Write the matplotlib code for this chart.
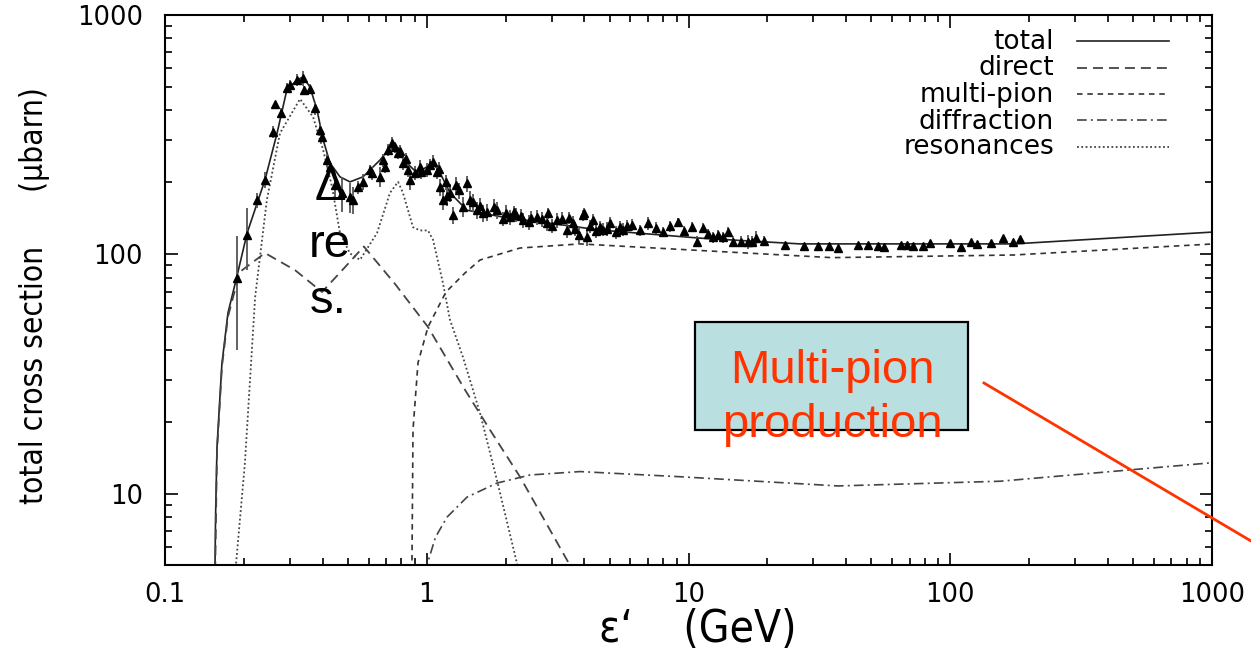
import matplotlib
matplotlib.use('Agg')
import matplotlib.pyplot as plt
from matplotlib import font_manager
from matplotlib.font_manager import FontProperties
from matplotlib.ticker import LogLocator, NullFormatter
from matplotlib.patches import Rectangle
from matplotlib.lines import Line2D

plt.rcParams['lines.scale_dashes'] = False
plt.rcParams['font.family'] = ['DejaVu Sans']


def find_narrow_font():
    ttf = font_manager.fontManager.ttflist
    for f in ttf:
        if f.name == 'Liberation Sans Narrow' and f.style == 'normal' and f.weight in (400, 'normal', 'regular'):
            return f.fname
    for f in ttf:
        low = f.fname.lower()
        if ('condensed' in low or 'narrow' in low) and 'bold' not in low and 'oblique' not in low \
                and 'italic' not in low and 'mono' not in low and 'serif' not in low:
            return f.fname
    return None


NARROW_FILE = find_narrow_font()

# ---------------- data (energy in GeV, cross section in microbarn) ----------------
total_x = [0.1545, 0.156, 0.158, 0.165, 0.174, 0.188, 0.206, 0.241, 0.268, 0.292, 0.319, 0.337,
           0.358, 0.381, 0.402, 0.427, 0.466, 0.509, 0.571, 0.663, 0.737, 0.777, 0.840, 0.918,
           1.057, 1.124, 1.227, 1.425, 1.905, 4.59, 11.07, 26.7, 175.0, 1000.0]
total_y = [3.0, 8.0, 15.7, 35.0, 57.0, 80.5, 123, 205, 321, 486, 535, 551,
           500, 401, 301, 241, 211, 201, 211, 248, 286, 278, 241, 219,
           241, 219, 181, 153, 144, 126.5, 117, 110.7, 110.7, 124]

direct_x = [0.1545, 0.158, 0.165, 0.174, 0.193, 0.241, 0.314, 0.398, 0.488, 0.575, 0.756,
            1.011, 1.40, 1.745, 2.27, 3.52, 4.2]
direct_y = [3.0, 15.0, 34.0, 55.0, 84.5, 101.4, 86.0, 69.7, 88.7, 108.0, 75.4,
            49.8, 27.2, 18.5, 11.8, 5.05, 3.5]

multipion_x = [0.874, 0.878, 0.886, 0.926, 1.011, 1.184, 1.40, 1.597, 2.27, 3.85, 9.28,
               35.3, 175.0, 1000.0]
multipion_y = [1.0, 5.05, 18.5, 35.3, 49.8, 69.7, 83.7, 94.8, 106.4, 110.7, 105.0,
               97.0, 99.5, 110.6]

diffraction_x = [0.997, 1.002, 1.08, 1.195, 1.425, 1.855, 2.48, 3.85, 9.28, 37.2, 155.0, 1000.0]
diffraction_y = [1.0, 5.05, 6.6, 8.0, 9.7, 11.1, 12.0, 12.4, 11.8, 10.8, 11.3, 13.5]

resonance_x = [0.179, 0.202, 0.221, 0.245, 0.275, 0.328, 0.368, 0.402, 0.435, 0.466, 0.509,
               0.556, 0.646, 0.724, 0.777, 0.811, 0.886, 0.942, 1.011, 1.057, 1.153, 1.227,
               1.375, 1.597, 1.855, 2.21, 2.4]
resonance_y = [3.0, 13.5, 66.5, 169, 321, 446, 375, 273, 191, 123, 101,
               95, 123, 181, 201, 181, 130, 126, 126, 115, 76, 53.3,
               37.3, 21.8, 11.4, 5.15, 3.0]

data_x = [0.188, 0.206, 0.225, 0.241, 0.259, 0.263, 0.277, 0.292, 0.300, 0.319, 0.337, 0.340,
          0.358, 0.374, 0.391, 0.398, 0.416, 0.427, 0.446, 0.475, 0.509, 0.522, 0.546, 0.571,
          0.607, 0.663, 0.681, 0.711, 0.737, 0.756, 0.777, 0.812, 0.848, 0.863, 0.902, 0.942,
          1.002, 1.057, 1.094, 1.124, 1.154, 1.19, 1.227, 1.26, 1.29, 1.375, 1.42, 1.463,
          1.556, 1.60, 1.640, 1.855, 2.00, 2.080, 2.20, 2.332, 2.50, 2.638, 2.880, 2.90,
          3.146, 3.435, 3.50, 3.621, 3.80, 3.954, 4.00, 4.096, 4.30, 4.590, 4.70, 5.013,
          5.475, 5.60, 6.10, 7.003, 7.991, 9.10, 10.31, 10.8, 11.36, 12.41, 13.55, 14.79,
          15.87, 16.88, 18.11, 23.37, 27.62, 31.24, 34.42, 37.26, 44.42, 48.51, 52.97, 55.84,
          64.84, 68.36, 72.06, 78.71, 83.69, 99.77, 109.9, 120.0, 126.6, 143.1, 159.1, 173.7,
          184.7,
          1.33, 1.50, 1.70, 1.80, 1.95, 2.15, 2.30, 2.45, 2.75, 3.00, 3.30, 3.70,
          4.20, 4.45, 4.90, 5.30, 5.80, 6.50, 7.50, 8.50, 9.60, 11.9, 13.0, 14.2,
          17.5, 19.5, 0.95, 1.03, 1.11, 1.18, 0.62, 0.69, 0.79, 0.83]
data_y = [80, 121, 169, 205, 325, 425, 390, 496, 510, 535, 546, 486,
          491, 409, 331, 310, 248, 232, 195, 181, 174, 169, 191, 201,
          225, 211, 248, 273, 292, 281, 265, 241, 225, 205, 219, 232,
          225, 243, 221, 191, 169, 175, 181, 146, 195, 158, 198, 169,
          153, 160, 149, 153, 149, 143, 146, 139, 142, 143, 135, 149,
          139, 127, 142, 135, 121, 146, 149, 118, 139, 130, 127, 135,
          130, 127, 133, 135, 124, 136, 130, 113, 129, 118, 118, 113,
          113, 113, 117, 110, 108.5, 108.5, 108.5, 106.4, 110, 110, 108.5, 107.5,
          110, 110, 108.5, 108.5, 112, 112, 107.5, 113, 111, 112, 117, 113,
          116,
          185, 165, 150, 158, 141, 150, 145, 136, 140, 132, 141, 128,
          131, 125, 128, 124, 131, 126, 129, 131, 125, 122, 121, 124,
          113, 114, 222, 236, 228, 200, 218, 232, 270, 250]
data_err = [40, 35, 12, 15, 20, 10, 20, 25, 25, 30, 40, 20,
            25, 25, 20, 15, 15, 12, 25, 30, 25, 22, 12, 15,
            12, 20, 15, 15, 18, 15, 15, 15, 15, 20, 15, 15,
            15, 18, 15, 15, 15, 15, 15, 12, 15, 15, 15, 15,
            12, 12, 12, 12, 12, 10, 10, 10, 10, 10, 10, 8,
            10, 10, 8, 10, 10, 8, 8, 10, 8, 8, 8, 8,
            8, 8, 8, 8, 6, 6, 6, 6, 6, 6, 6, 6,
            6, 8, 8, 2, 2, 2, 2, 2, 2, 2, 2, 2,
            2, 2, 2, 2, 2, 2, 2, 2, 2, 2, 2, 2,
            2,
            14, 14, 12, 12, 10, 10, 10, 10, 10, 9, 9, 9,
            8, 8, 8, 8, 8, 7, 7, 7, 7, 6, 6, 6,
            6, 6, 15, 15, 15, 15, 14, 14, 16, 15]

x_ticks = [0.1, 1, 10, 100, 1000]
x_ticklabels = ['0.1', '1', '10', '100', '1000']
y_ticks = [10, 100, 1000]
y_ticklabels = ['10', '100', '1000']

legend_labels = ['total', 'direct', 'multi-pion', 'diffraction', 'resonances']

# ---------------- figure ----------------
W, H = 1251, 652
fig = plt.figure(figsize=(W / 100, H / 100), dpi=100)
L, R, T, B = 165, 1212, 15, 565
ax = fig.add_axes([L / W, 1 - B / H, (R - L) / W, (B - T) / H])
ax.set_xscale('log')
ax.set_yscale('log')
ax.set_xlim(0.1, 1000)
ax.set_ylim(5.05, 1000)

styles = {
    'total': dict(color='#222222', lw=1.2, ls='-'),
    'direct': dict(color='#444444', lw=1.3, ls=(0, (7.2, 4.3))),
    'multi-pion': dict(color='#333333', lw=1.2, ls=(0, (4.0, 3.4))),
    'diffraction': dict(color='#444444', lw=1.2, ls=(0, (7.0, 3.0, 1.4, 3.0))),
    'resonances': dict(color='#444444', lw=1.3, ls=(0, (1.3, 1.8))),
}

ax.plot(total_x, total_y, **styles['total'])
ax.plot(direct_x, direct_y, **styles['direct'])
ax.plot(multipion_x, multipion_y, **styles['multi-pion'])
ax.plot(diffraction_x, diffraction_y, **styles['diffraction'])
ax.plot(resonance_x, resonance_y, **styles['resonances'])

ax.errorbar(data_x, data_y, yerr=data_err, fmt='^', color='black', ms=5.5,
            ecolor='#555555', elinewidth=1.3, capsize=0, zorder=4)

# ticks
ax.set_xticks(x_ticks)
ax.set_xticklabels(x_ticklabels)
ax.set_yticks(y_ticks)
ax.set_yticklabels(y_ticklabels)
ax.xaxis.set_minor_locator(LogLocator(base=10, subs=range(2, 10)))
ax.yaxis.set_minor_locator(LogLocator(base=10, subs=range(2, 10)))
ax.xaxis.set_minor_formatter(NullFormatter())
ax.yaxis.set_minor_formatter(NullFormatter())
ax.tick_params(which='both', direction='in', top=True, right=True, width=1.2, colors='black')
ax.tick_params(which='major', length=9)
ax.tick_params(which='minor', length=5)
ax.tick_params(axis='x', which='major', pad=12, labelsize=18.5)
ax.tick_params(axis='y', which='major', pad=16, labelsize=18.5)
for s in ax.spines.values():
    s.set_linewidth(1.5)


def label_props(size):
    if NARROW_FILE:
        fp = FontProperties(fname=NARROW_FILE)
    else:
        fp = FontProperties(family='Liberation Sans')
    fp.set_size(size)
    return fp


# axis labels
ax.set_ylabel('total cross section      (\u03bcbarn)', fontproperties=label_props(28))
ax.yaxis.label.set_va('center')
ax.yaxis.set_label_coords((34 - L) / (R - L), (B - 296) / (B - T))
ax.set_xlabel('\u03b5\u2018    (GeV)', fontproperties=label_props(28))
ax.xaxis.label.set_va('center')
ax.xaxis.set_label_coords((698 - L) / (R - L), (B - 630) / (B - T))

# fit the label sizes to the reference extents (417 px and 197 px)
fig.canvas.draw()
rend = fig.canvas.get_renderer()
yl_len = ax.yaxis.label.get_window_extent(rend).height
xl_len = ax.xaxis.label.get_window_extent(rend).width
ax.yaxis.label.set_fontsize(28 * 417.0 / yl_len)
ax.xaxis.label.set_fontsize(28 * 197.0 / xl_len)


# manual legend
def axc(px, py):
    return (px - L) / (R - L), (B - py) / (B - T)


leg_base = [49, 75, 102, 129, 154]
leg_line = [41, 68, 94, 120, 147]
for lab, yb, yl in zip(legend_labels, leg_base, leg_line):
    tx, ty = axc(1054, yb)
    ax.text(tx, ty, lab, transform=ax.transAxes, ha='right', va='baseline',
            fontsize=19, family='DejaVu Sans', color='black')
    x1, yy = axc(1077, yl)
    x2, _ = axc(1169, yl)
    ax.plot([x1, x2], [yy, yy], transform=ax.transAxes, **styles[lab])


# annotations (figure pixel positions)
def fc(px, py):
    return px / W, 1 - py / H


ANN = 'Liberation Sans'
for txt, (px, py) in [('\u0394', (330, 200)), ('re', (330, 257)), ('s.', (328, 313))]:
    fig.text(*fc(px, py), txt, ha='center', va='baseline', fontsize=34, family=ANN, color='black')

bx0, by0, bx1, by1 = 695, 322, 968, 430
fig.patches.append(Rectangle(fc(bx0, by1), (bx1 - bx0) / W, (by1 - by0) / H,
                             transform=fig.transFigure, facecolor='#b9dfe1',
                             edgecolor='black', lw=1.6, zorder=2))
fig.text(*fc(832, 383), 'Multi-pion', ha='center', va='baseline', fontsize=34,
         family=ANN, color='#ff3300', zorder=3)
fig.text(*fc(832, 437), 'production', ha='center', va='baseline', fontsize=34,
         family=ANN, color='#ff3300', zorder=3)
fig.lines.append(Line2D([984 / W, 1251 / W], [1 - 383 / H, 1 - 541 / H],
                        transform=fig.transFigure, color='#ff3300', lw=2.0, zorder=3))

fig.savefig('out.png', dpi=100)
